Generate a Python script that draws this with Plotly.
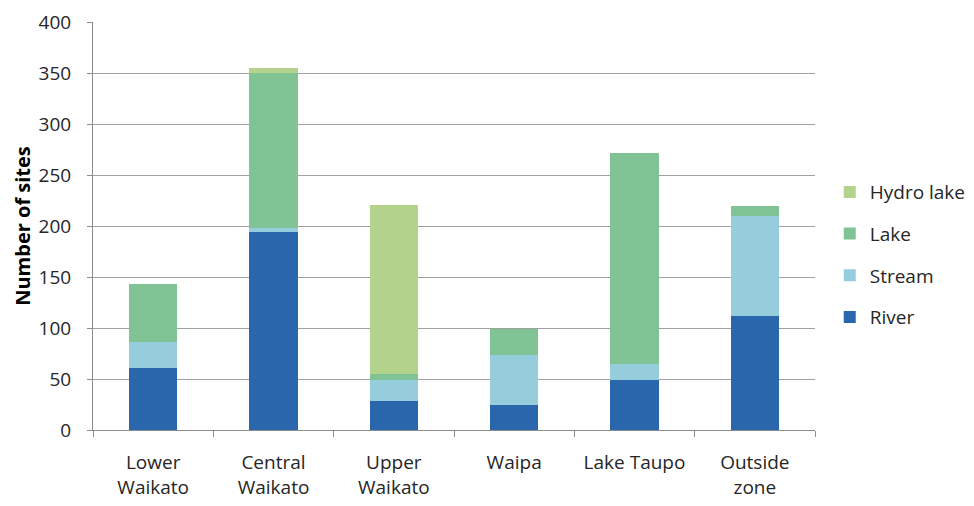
import plotly.graph_objects as go

categories = ["Lower<br>Waikato", "Central<br>Waikato", "Upper<br>Waikato", "Waipa", "Lake Taupo", "Outside<br>zone"]
river = [61, 194, 28, 25, 49, 112]
stream = [25, 4, 21, 49, 16, 98]
lake = [57, 152, 6, 25, 207, 10]
hydro_lake = [0, 5, 166, 0, 0, 0]

series = [
    ("River", river, "#2A66AC", 4),
    ("Stream", stream, "#96CDDC", 3),
    ("Lake", lake, "#80C495", 2),
    ("Hydro lake", hydro_lake, "#B3D28C", 1),
]

fig = go.Figure()
for name, vals, color, rank in series:
    fig.add_trace(go.Bar(
        x=categories, y=vals, name=name, marker_color=color,
        marker_line_width=0, legendgroup=name, legendrank=rank,
    ))

font_family = "Open Sans, Liberation Sans, sans-serif"
fig.update_layout(
    barmode="stack",
    bargap=0.6,
    width=974, height=506,
    margin=dict(l=85, r=166, t=14, b=84),
    plot_bgcolor="white", paper_bgcolor="white",
    font=dict(family=font_family, size=19, color="#262626"),
    legend=dict(
        traceorder="grouped", x=1.019, xanchor="left", y=0.43, yanchor="middle",
        font=dict(size=19, color="#262626"), tracegroupgap=14,
        itemwidth=30,
    ),
    xaxis=dict(
        showline=True, linecolor="#8C8C8C", linewidth=1, automargin=False,
        ticks="outside", tickson="boundaries", ticklen=6, tickcolor="#8C8C8C",
        tickfont=dict(size=19), ticklabelstandoff=15,
    ),
    yaxis=dict(
        range=[0, 400], dtick=50, showgrid=True, gridcolor="#A0A0A0", gridwidth=1,
        showline=True, linecolor="#8C8C8C", linewidth=1, automargin=False,
        ticks="outside", ticklen=5, tickcolor="#8C8C8C",
        tickfont=dict(size=19), zeroline=False, ticklabelstandoff=12,
        ticklabeloverflow="allow",
        title=dict(text="<b>Number of sites</b>", font=dict(size=20, color="#000000"), standoff=2),
    ),
)

fig.write_html("out.html")
